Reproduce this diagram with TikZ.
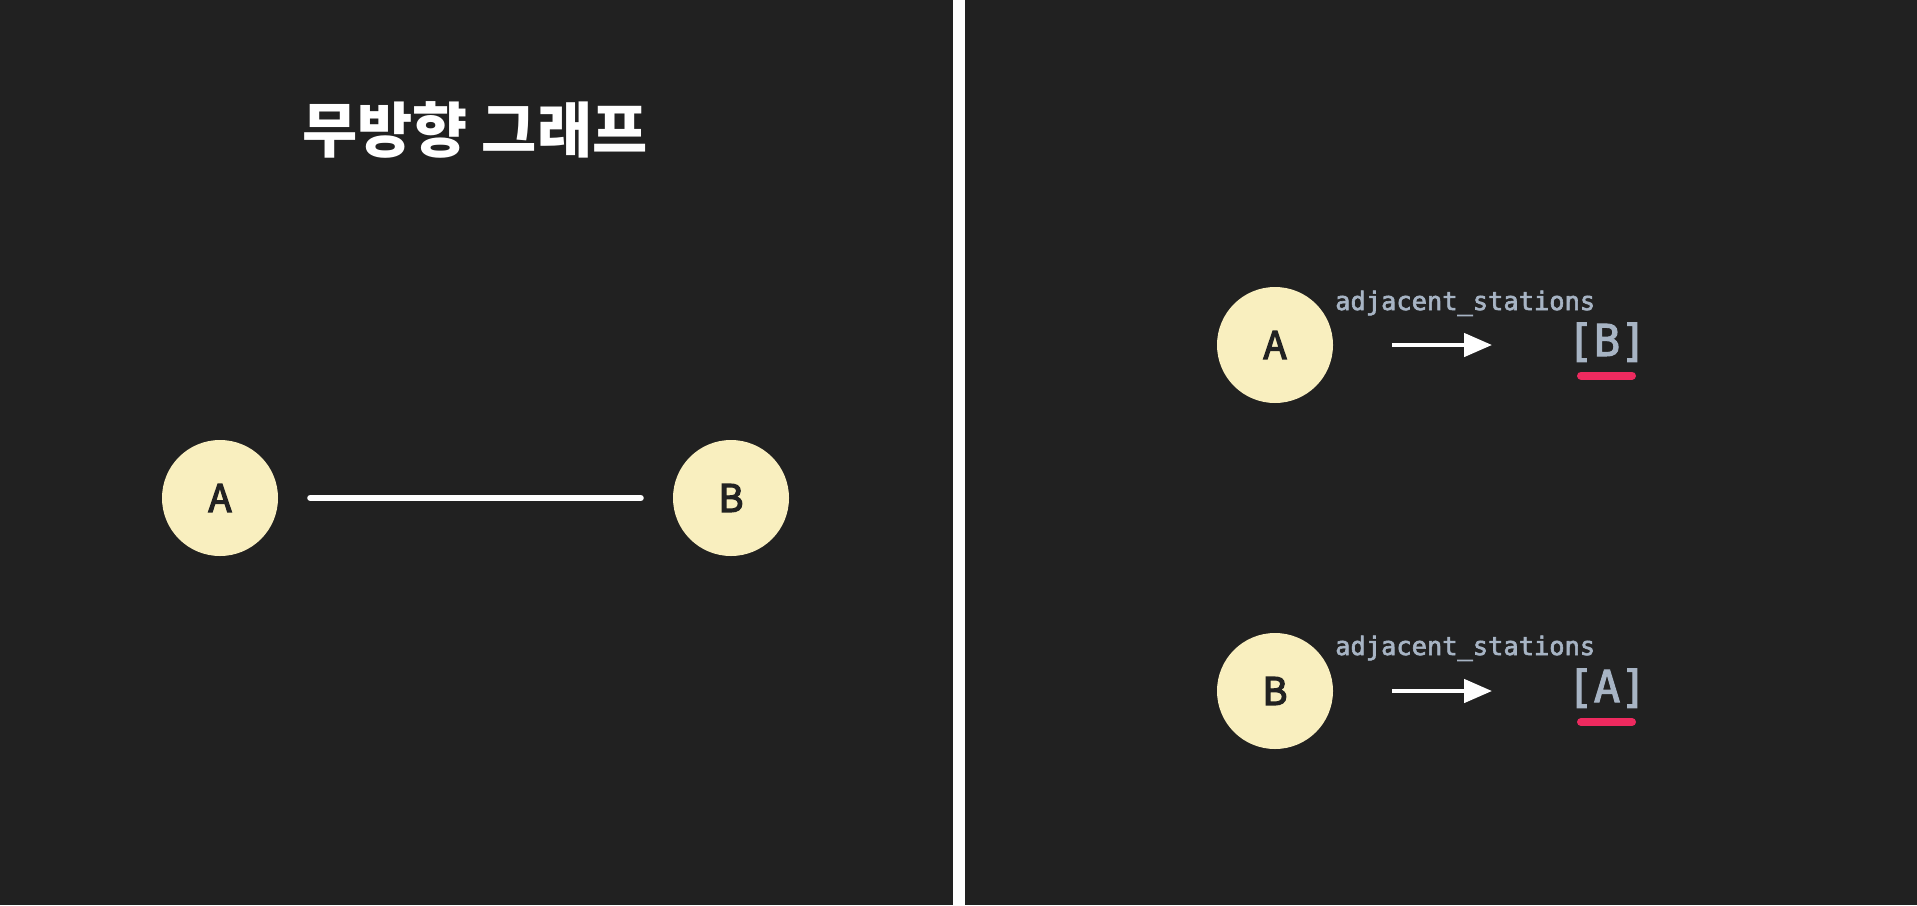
\documentclass[tikz,border=0pt]{standalone}
\usepackage{fontspec}
\usetikzlibrary{arrows.meta}
\newfontfamily\krfont{Noto Sans CJK KR}
\newfontfamily\monofont{DejaVu Sans Mono}
\newcommand\heavytext[2]{\special{pdf:literal direct #1 w 2 Tr}#2\special{pdf:literal direct 0 Tr}}
\definecolor{bgc}{HTML}{212121}
\definecolor{nodefill}{HTML}{F9EFBF}
\definecolor{labc}{HTML}{222222}
\definecolor{codec}{HTML}{A7B4C4}
\definecolor{pinkc}{HTML}{EE2A5F}
\tikzset{
  vert/.style={circle, fill=nodefill, minimum size=116pt, inner sep=0pt,
    text=labc, font=\krfont\fontsize{38}{40}\selectfont},
  edgeline/.style={white, line width=6pt, line cap=round},
  arr/.style={white, line width=4.5pt, -{Triangle[length=28pt,width=23pt]}},
  codelbl/.style={anchor=base west, inner sep=0pt, text=codec, font=\monofont\fontsize{25.4}{28}\selectfont},
  listlbl/.style={anchor=base, inner sep=0pt, text=codec, font=\monofont\fontsize{44}{48}\selectfont},
  uline/.style={pinkc, line width=8pt, line cap=round}
}
\begin{document}
\begin{tikzpicture}[x=1pt,y=-1pt]
\fill[bgc] (0,0) rectangle (1917,905);
\useasboundingbox (0,0) rectangle (1917,905);
% divider
\fill[white] (953,0) rectangle (965,905);
% title
\node[anchor=base, inner sep=0pt, text=white, font=\krfont\bfseries\fontsize{60}{64}\selectfont] (title) at (475,152) {무방향 그래프};
% left graph
\node[vert] (la) at (220,498) {\heavytext{1.3}{A}};
\node[vert] (lb) at (731,498) {\heavytext{1.3}{B}};
\draw[edgeline, shorten <=32pt, shorten >=32pt] (la) -- (lb);
% right: A
\node[vert] (ra) at (1275,345) {\heavytext{1.3}{A}};
\node[codelbl] (ca) at (1335,310) {\heavytext{0.6}{adjacent\_stations}};
\node[listlbl] (lista) at (1607,356) {\heavytext{1.0}{[B]}};
\draw[arr, shorten <=59pt, shorten >=75pt] (ra) -- (ra -| lista.west);
\draw[uline] (1581,375.5) -- (1632,375.5);
% right: B
\node[vert] (rb) at (1275,691) {\heavytext{1.3}{B}};
\node[codelbl] (cb) at (1335,655) {\heavytext{0.6}{adjacent\_stations}};
\node[listlbl] (listb) at (1607,702) {\heavytext{1.0}{[A]}};
\draw[arr, shorten <=59pt, shorten >=75pt] (rb) -- (rb -| listb.west);
\draw[uline] (1581,722) -- (1632,722);
\end{tikzpicture}
\end{document}
